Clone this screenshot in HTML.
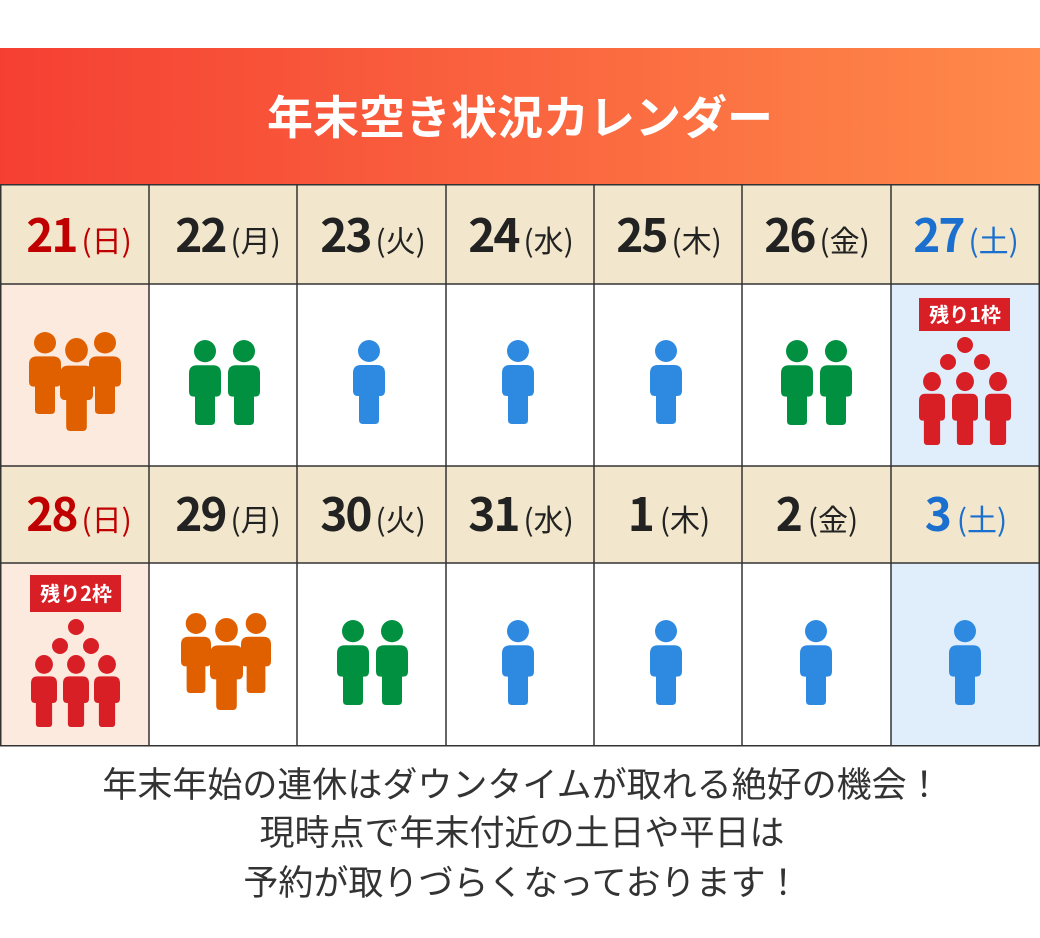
<!DOCTYPE html>
<html><head><meta charset="utf-8"><style>
body{margin:0;background:#fff;width:1040px;height:938px;overflow:hidden;font-family:"Liberation Sans","Noto Sans CJK JP",sans-serif}
</style></head><body>
<svg width="1040" height="938" viewBox="0 0 1040 938" xmlns="http://www.w3.org/2000/svg" style="display:block">
<defs>
<linearGradient id="g" x1="0" x2="1" y1="0" y2="0"><stop offset="0" stop-color="#f53f33"/><stop offset="1" stop-color="#ff8a4a"/></linearGradient>
<symbol id="p" viewBox="0 0 32 84" preserveAspectRatio="none">
<circle cx="16" cy="11" r="11"/>
<path d="M8,25 H24 Q32,25 32,33 V51 Q32,56 27,56 H26 V80 Q26,84 22,84 H10 Q6,84 6,80 V56 H5 Q0,56 0,51 V33 Q0,25 8,25 Z"/>
</symbol>
</defs>
<rect x="0" y="48" width="1040" height="136" fill="url(#g)"/>
<text x="520" y="134" text-anchor="middle" font-size="46" font-weight="bold" fill="#fff" font-family="Noto Sans CJK JP,sans-serif">年末空き状況カレンダー</text>
<rect x="0" y="184" width="1040" height="100" fill="#f2e7cc"/>
<rect x="0" y="466" width="1040" height="97" fill="#f2e7cc"/>
<rect x="0" y="284" width="149" height="182" fill="#fdeadf"/>
<rect x="891" y="284" width="149" height="182" fill="#e0eefc"/>
<rect x="0" y="563" width="149" height="183" fill="#fdeadf"/>
<rect x="891" y="563" width="149" height="183" fill="#e0eefc"/>
<g stroke="#333" stroke-width="1.5" fill="none">
<rect x="0.75" y="184.75" width="1038.5" height="561"/>
<line x1="0" y1="284" x2="1040" y2="284"/><line x1="0" y1="466" x2="1040" y2="466"/><line x1="0" y1="563" x2="1040" y2="563"/>
<line x1="149" y1="184" x2="149" y2="746"/><line x1="297" y1="184" x2="297" y2="746"/><line x1="446" y1="184" x2="446" y2="746"/><line x1="594" y1="184" x2="594" y2="746"/><line x1="742" y1="184" x2="742" y2="746"/><line x1="891" y1="184" x2="891" y2="746"/>
</g>
<g font-family="Noto Sans CJK JP,sans-serif" text-anchor="middle">
<g font-size="30">
<text x="79" y="252" fill="#c00000"><tspan font-size="46" font-weight="bold" letter-spacing="-2">21</tspan><tspan dx="5">(日)</tspan></text>
<text x="228" y="252" fill="#222"><tspan font-size="46" font-weight="bold" letter-spacing="-2">22</tspan><tspan dx="5">(月)</tspan></text>
<text x="373" y="252" fill="#222"><tspan font-size="46" font-weight="bold" letter-spacing="-2">23</tspan><tspan dx="5">(火)</tspan></text>
<text x="521" y="252" fill="#222"><tspan font-size="46" font-weight="bold" letter-spacing="-2">24</tspan><tspan dx="5">(水)</tspan></text>
<text x="669" y="252" fill="#222"><tspan font-size="46" font-weight="bold" letter-spacing="-2">25</tspan><tspan dx="5">(木)</tspan></text>
<text x="817" y="252" fill="#222"><tspan font-size="46" font-weight="bold" letter-spacing="-2">26</tspan><tspan dx="5">(金)</tspan></text>
<text x="966" y="252" fill="#1a6fcf"><tspan font-size="46" font-weight="bold" letter-spacing="-2">27</tspan><tspan dx="5">(土)</tspan></text>
<text x="79" y="531" fill="#c00000"><tspan font-size="46" font-weight="bold" letter-spacing="-2">28</tspan><tspan dx="5">(日)</tspan></text>
<text x="228" y="531" fill="#222"><tspan font-size="46" font-weight="bold" letter-spacing="-2">29</tspan><tspan dx="5">(月)</tspan></text>
<text x="373" y="531" fill="#222"><tspan font-size="46" font-weight="bold" letter-spacing="-2">30</tspan><tspan dx="5">(火)</tspan></text>
<text x="521" y="531" fill="#222"><tspan font-size="46" font-weight="bold" letter-spacing="-2">31</tspan><tspan dx="5">(水)</tspan></text>
<text x="669" y="531" fill="#222"><tspan font-size="46" font-weight="bold">1</tspan><tspan dx="5">(木)</tspan></text>
<text x="817" y="531" fill="#222"><tspan font-size="46" font-weight="bold">2</tspan><tspan dx="5">(金)</tspan></text>
<text x="966" y="531" fill="#1a6fcf"><tspan font-size="46" font-weight="bold">3</tspan><tspan dx="5">(土)</tspan></text>
</g>
</g>
<g fill="#e06000"><use href="#p" x="29" y="332" width="32" height="82"/><use href="#p" x="89" y="332" width="32" height="82"/><use href="#p" x="60" y="338" width="33" height="93"/></g>
<g fill="#009040"><use href="#p" x="189" y="340" width="32" height="85"/><use href="#p" x="228" y="340" width="32" height="85"/><use href="#p" x="781" y="340" width="32" height="85"/><use href="#p" x="820" y="340" width="32" height="85"/></g>
<g fill="#2e8ae0"><use href="#p" x="353" y="340" width="32" height="84"/><use href="#p" x="502" y="340" width="32" height="84"/><use href="#p" x="650" y="340" width="32" height="84"/>
<use href="#p" x="502" y="620" width="32" height="85"/><use href="#p" x="650" y="620" width="32" height="85"/><use href="#p" x="800" y="620" width="32" height="85"/><use href="#p" x="949" y="620" width="32" height="85"/></g>
<g fill="#d81f26">
<rect x="919" y="298" width="91" height="33"/>
<circle cx="965" cy="345" r="8"/><circle cx="948" cy="362" r="8"/><circle cx="982" cy="362" r="8"/>
<use href="#p" x="919" y="372" width="26" height="73"/><use href="#p" x="952" y="372" width="26" height="73"/><use href="#p" x="985" y="372" width="26" height="73"/>
<rect x="30" y="575" width="91" height="37"/>
<circle cx="76" cy="627" r="8"/><circle cx="60" cy="646" r="8"/><circle cx="91" cy="646" r="8"/>
<use href="#p" x="31" y="655" width="26" height="72"/><use href="#p" x="63" y="655" width="26" height="72"/><use href="#p" x="94" y="655" width="26" height="72"/>
</g>
<g fill="#fff" font-size="20" font-weight="bold" text-anchor="middle" font-family="Noto Sans CJK JP,sans-serif">
<text x="965" y="322">残り1枠</text><text x="76" y="601">残り2枠</text></g>
<g fill="#e06000"><use href="#p" x="181" y="613" width="30" height="80"/><use href="#p" x="241" y="613" width="30" height="80"/><use href="#p" x="210" y="618" width="33" height="92"/></g>
<g fill="#009040"><use href="#p" x="337" y="620" width="32" height="85"/><use href="#p" x="376" y="620" width="32" height="85"/></g>
<g fill="#333" font-size="35" text-anchor="middle" font-family="Noto Sans CJK JP,sans-serif">
<text x="522" y="797">年末年始の連休はダウンタイムが取れる絶好の機会！</text>
<text x="522" y="845">現時点で年末付近の土日や平日は</text>
<text x="522" y="895">予約が取りづらくなっております！</text>
</g>
</svg>
</body></html>
